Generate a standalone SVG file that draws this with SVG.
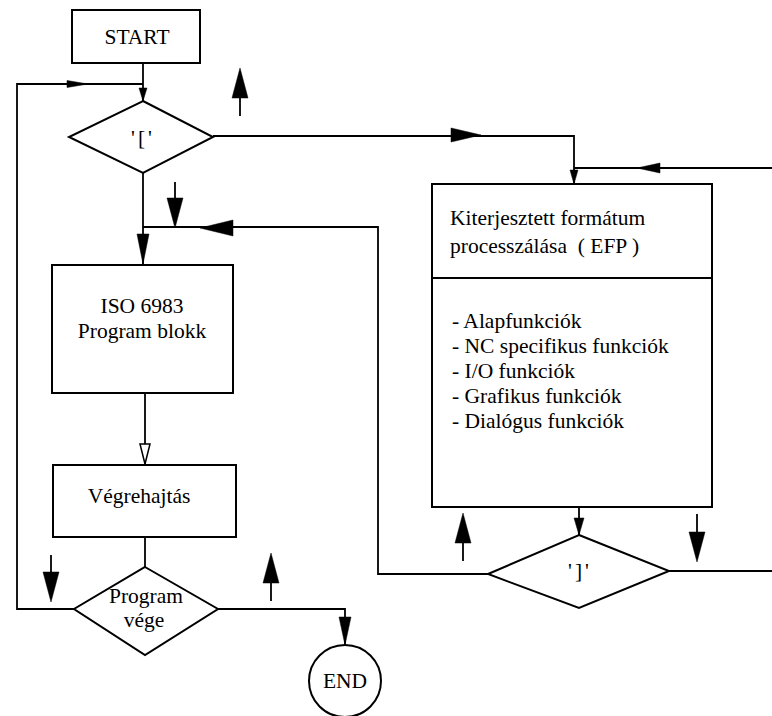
<svg xmlns="http://www.w3.org/2000/svg" width="772" height="716" viewBox="0 0 772 716">
<style>
.box{fill:#fff;stroke:#000;stroke-width:2}
.ln{fill:none;stroke:#000;stroke-width:1.8}
.hd{fill:#000;stroke:#000;stroke-width:0.5}
.open{fill:#fff;stroke:#000;stroke-width:1.5}
.t{font-family:'Liberation Serif','Times New Roman','DejaVu Serif',serif;font-size:21.5px;fill:#000}
.c{text-anchor:middle}
.br{letter-spacing:3px}
</style>
<defs>
<path id="big" d="M0,0 L-30,-8 L-30,8 Z"/>
</defs>
<g id="connectors">
<path class="ln" d="M143,62 V101"/>
<path class="hd" d="M143,101 L139,88 L147,88 Z"/>
<path class="ln" d="M74,609 H17 V84 H143"/>
<path class="hd" d="M88,84 L67,80.5 L67,87.5 Z"/>
<path class="ln" d="M213,136 H574 V184"/>
<path class="hd" d="M481,135 L451,128 L451,142 Z"/>
<path class="hd" d="M574,184 L570,170 L578,170 Z"/>
<path class="ln" d="M772,168 H574"/>
<path class="hd" d="M637,168 L660,163 L660,173 Z"/>
<path class="ln" d="M143,173 V264"/>
<path class="hd" d="M143,264 L137,234 L149,234 Z"/>
<path class="ln" d="M488,574 H378 V227 H143"/>
<path class="hd" d="M200,228 L233,220 L233,236 Z"/>
<path class="ln" d="M145,393 V465"/>
<path class="open" d="M145,464 L140,444 L150,444 Z"/>
<path class="ln" d="M145,537 V567"/>
<path class="ln" d="M218,609 H345 V645"/>
<path class="hd" d="M345,645 L339,617 L351,617 Z"/>
<path class="ln" d="M579,507 V535"/>
<path class="hd" d="M579,535 L574,518 L584,518 Z"/>
<path class="ln" d="M669,571 H772"/>
<path class="ln" d="M240,98 V116"/>
<use href="#big" class="hd" transform="translate(240,68) rotate(-90)"/>
<path class="ln" d="M175,182 V198"/>
<use href="#big" class="hd" transform="translate(175,228) rotate(90)"/>
<path class="ln" d="M51,555 V573"/>
<use href="#big" class="hd" transform="translate(51,602) rotate(90)"/>
<path class="ln" d="M271,583 V601"/>
<use href="#big" class="hd" transform="translate(271,553) rotate(-90)"/>
<path class="ln" d="M463,543 V561"/>
<use href="#big" class="hd" transform="translate(463,513) rotate(-90)"/>
<path class="ln" d="M697,514 V532"/>
<use href="#big" class="hd" transform="translate(697,562) rotate(90)"/>
</g>
<g id="start">
<rect class="box" x="72" y="10" width="128" height="53"/>
<text class="t c" x="137" y="44">START</text>
</g>
<g id="cond-open">
<path class="box" d="M143,101 L213,137 L143,173 L69,137 Z"/>
<text class="t c br" x="143" y="145">'['</text>
</g>
<g id="iso">
<rect class="box" x="52" y="265" width="181" height="128"/>
<text class="t c" x="142" y="313">ISO 6983</text>
<text class="t c" x="142" y="338">Program blokk</text>
</g>
<g id="exec">
<rect class="box" x="53" y="465" width="183" height="72"/>
<text class="t c" x="139" y="503">Végrehajtás</text>
</g>
<g id="prog-end">
<path class="box" d="M145,567 L218,609 L145,655 L74,609 Z"/>
<text class="t c" x="146" y="603">Program</text>
<text class="t c" x="144" y="627">vége</text>
</g>
<g id="end">
<circle class="box" cx="345" cy="681" r="36"/>
<text class="t c" x="345" y="688">END</text>
</g>
<g id="efp">
<rect class="box" x="432" y="184" width="280" height="323"/>
<path class="ln" d="M432,278 H712" style="stroke-width:2"/>
<text class="t" x="450" y="225">Kiterjesztett formátum</text>
<text class="t" x="450" y="253" xml:space="preserve">processzálása  ( EFP )</text>
<text class="t" x="452" y="328">- Alapfunkciók</text>
<text class="t" x="452" y="353">- NC specifikus funkciók</text>
<text class="t" x="452" y="378">- I/O funkciók</text>
<text class="t" x="452" y="403">- Grafikus funkciók</text>
<text class="t" x="452" y="428">- Dialógus funkciók</text>
</g>
<g id="cond-close">
<path class="box" d="M579,535 L669,571 L579,608 L488,574 Z"/>
<text class="t c br" x="580" y="578">']'</text>
</g>
</svg>
